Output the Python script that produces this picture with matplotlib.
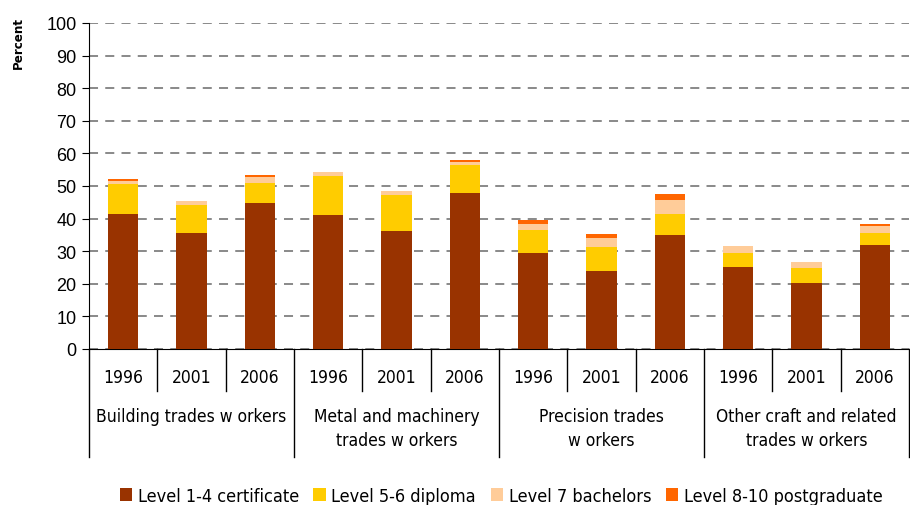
import matplotlib
matplotlib.use("Agg")
import matplotlib.pyplot as plt
import numpy as np
from matplotlib.patches import Patch
from matplotlib import font_manager as fm

groups = ["Building trades w orkers", "Metal and machinery\ntrades w orkers",
          "Precision trades\nw orkers", "Other craft and related\ntrades w orkers"]
years = ["1996", "2001", "2006"]
series_names = ["Level 1-4 certificate", "Level 5-6 diploma", "Level 7 bachelors", "Level 8-10 postgraduate"]
level_1_4 = [41.3, 35.5, 44.7, 41.0, 36.1, 47.8, 29.6, 23.8, 34.9, 25.3, 20.1, 31.8]
level_5_6 = [9.3, 8.6, 6.2, 12.0, 11.1, 8.6, 6.8, 7.4, 6.4, 4.3, 4.6, 3.7]
level_7 = [1.0, 1.2, 1.8, 1.2, 1.2, 0.9, 1.8, 2.7, 4.3, 1.9, 1.9, 2.2]
level_8_10 = [0.5, 0.0, 0.6, 0.0, 0.0, 0.6, 1.3, 1.3, 1.9, 0.0, 0.0, 0.5]
colors = ["#993300", "#FFCC00", "#FFCC99", "#FF6600"]

W, H = 910, 506
fig = plt.figure(figsize=(W / 100, H / 100), dpi=100)
ax = fig.add_axes([89 / W, 1 - 350 / H, (909 - 89) / W, (350 - 24) / H])

n = len(level_1_4)
x = np.arange(n)
bottom = np.zeros(n)
for vals, c in zip([level_1_4, level_5_6, level_7, level_8_10], colors):
    ax.bar(x, vals, 0.44, bottom=bottom, color=c, zorder=3)
    bottom += np.array(vals)

ax.set_xlim(-0.5, n - 0.5)
ax.set_ylim(0, 100)
ax.set_yticks(np.arange(0, 101, 10))
ax.tick_params(axis="y", labelsize=13, length=5, direction="out", pad=4)
for lab in ax.get_yticklabels():
    lab.set_family(["Liberation Sans", "DejaVu Sans"])
ax.yaxis.grid(True, linestyle=(0, (5, 4)), color="#808080", linewidth=1.3, zorder=0)
ax.spines["top"].set_visible(False)
ax.spines["right"].set_visible(False)

cond = fm.FontProperties(family="DejaVu Sans", stretch="condensed", size=12.5)
ax.set_xticks(x)
ax.set_xticklabels(years * len(groups), fontproperties=cond)
ax.tick_params(axis="x", length=0, pad=14)

ah = 350 - 24
tr = ax.get_xaxis_transform()
for b in range(n + 1):
    xb = b - 0.5
    y_end = -(458 - 350) / ah if b % 3 == 0 else -(392 - 350) / ah
    ax.plot([xb, xb], [0, y_end], color="black", linewidth=1.0, transform=tr, clip_on=False)

for gi, g in enumerate(groups):
    ax.text(gi * 3 + 1, -(408 - 350) / ah, g, transform=tr, ha="center", va="top",
            fontproperties=cond, linespacing=1.45)

pct = fm.FontProperties(family="DejaVu Sans", stretch="condensed", weight="bold", size=9.5)
fig.text(18 / W, 1 - 43 / H, "Percent", rotation=90, ha="center", va="center", fontproperties=pct)

handles = [Patch(facecolor=c, edgecolor="none") for c in colors]
lp = fm.FontProperties(family="DejaVu Sans", stretch="condensed", size=13)
fig.legend(handles, series_names, loc="center", bbox_to_anchor=(501 / W, 1 - 497 / H), ncol=4,
           frameon=False, prop=lp, handlelength=0.7, handleheight=0.7,
           handletextpad=0.3, columnspacing=0.8)

fig.savefig("out.png", dpi=100)
